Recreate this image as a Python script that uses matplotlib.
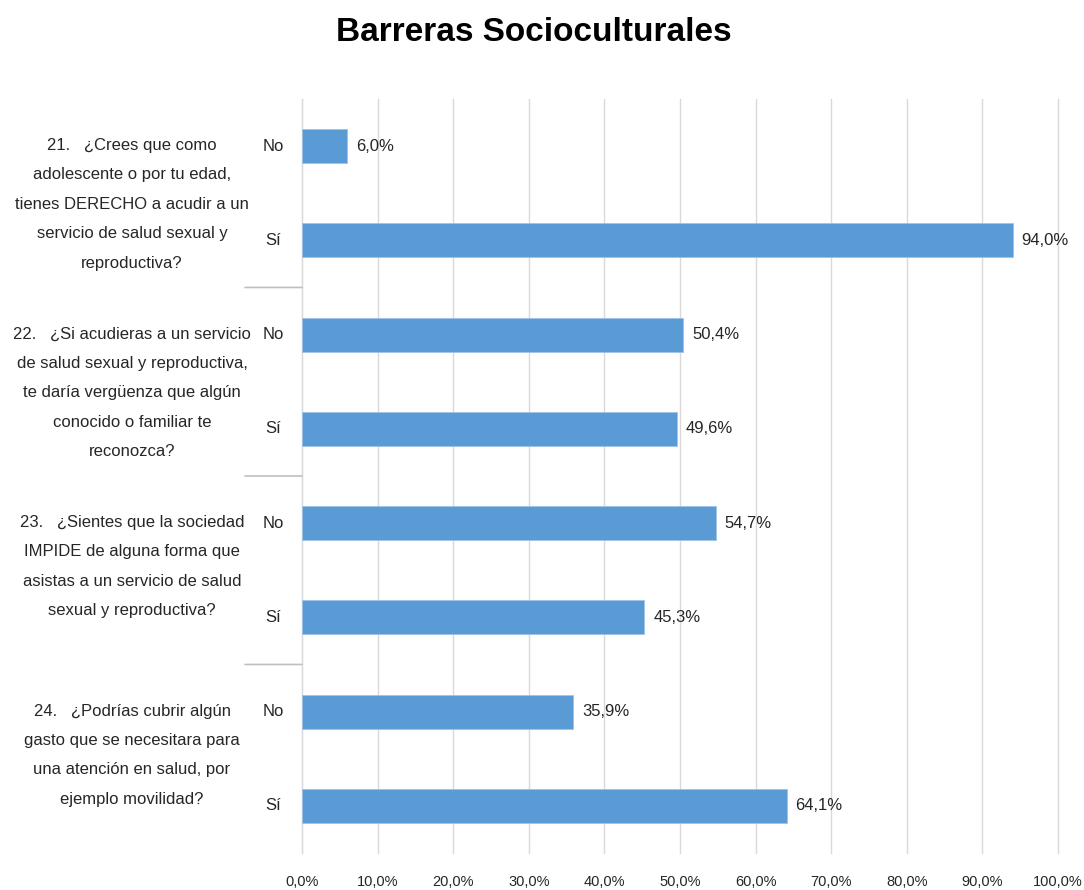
import matplotlib.pyplot as plt

plt.rcParams['font.family'] = ['Liberation Sans', 'DejaVu Sans']

# preguntas del bloque sociocultural
preguntas = [
    "21.   ¿Crees que como\nadolescente o por tu edad,\ntienes DERECHO a acudir a un\nservicio de salud sexual y\nreproductiva?",
    "22.   ¿Si acudieras a un servicio\nde salud sexual y reproductiva,\nte daría vergüenza que algún\nconocido o familiar te\nreconozca?",
    "23.   ¿Sientes que la sociedad\nIMPIDE de alguna forma que\nasistas a un servicio de salud\nsexual y reproductiva?",
    "24.   ¿Podrías cubrir algún\ngasto que se necesitara para\nuna atención en salud, por\nejemplo movilidad?",
]
respuestas = ["No", "Sí"]
pct_no = [6.0, 50.4, 54.7, 35.9]
pct_si = [94.0, 49.6, 45.3, 64.1]
xticks = [0, 10, 20, 30, 40, 50, 60, 70, 80, 90, 100]

azul = '#5b9bd5'
gris_txt = '#262626'

fig = plt.figure(figsize=(10.84, 8.9), dpi=100)
ax = fig.add_axes([0.2786, 0.0416, 0.6974, 0.8472])

valores = []
for n, s in zip(pct_no, pct_si):
    valores += [n, s]
pos = list(range(len(valores)))

ax.barh(pos, valores, height=0.36, color=azul, edgecolor='#9dc3e6', linewidth=0.6, zorder=3)
for y, v in zip(pos, valores):
    ax.annotate(f"{v:.1f}%".replace('.', ','), xy=(v, y), xytext=(9, 0),
                textcoords='offset pixels', va='center', ha='left',
                fontsize=12, color=gris_txt)

ax.set_ylim(len(valores) - 0.5, -0.5)
ax.set_xlim(0, 100)
ax.set_xticks(xticks)
ax.set_xticklabels([f"{t:.1f}%".replace('.', ',') for t in xticks], fontsize=10.5, color=gris_txt)
ax.tick_params(axis='x', length=0, pad=16)
ax.set_yticks([])
ax.grid(axis='x', color='#d9d9d9', linewidth=1, zorder=0)
for gl in ax.get_xgridlines():
    gl.set_clip_on(False)
for s in ['top', 'right', 'bottom']:
    ax.spines[s].set_visible(False)
ax.spines['left'].set_color('#d9d9d9')

# etiquetas No / Sí
for y in pos:
    ax.annotate(respuestas[y % 2], xy=(0, y), xycoords=('axes fraction', 'data'),
                xytext=(-29, 0), textcoords='offset pixels', ha='center', va='center',
                fontsize=12, color=gris_txt)

# preguntas y separadores entre grupos
for i, q in enumerate(preguntas):
    ax.annotate(q, xy=(0, 2 * i), xycoords=('axes fraction', 'data'),
                xytext=(-170, 8), textcoords='offset pixels', ha='center', va='top',
                fontsize=12, color=gris_txt, linespacing=2.2)
    if i > 0:
        ax.annotate('', xy=(0, 2 * i - 0.5), xycoords=('axes fraction', 'data'),
                    xytext=(-57, 0), textcoords='offset pixels',
                    arrowprops=dict(arrowstyle='-', color='#bfbfbf', lw=1.2,
                                    shrinkA=0, shrinkB=0))

fig.text(0.492, 0.963, "Barreras Socioculturales", ha='center', va='center',
         fontsize=24, fontweight='bold')

fig.savefig('out.png', dpi=100, facecolor='white')
